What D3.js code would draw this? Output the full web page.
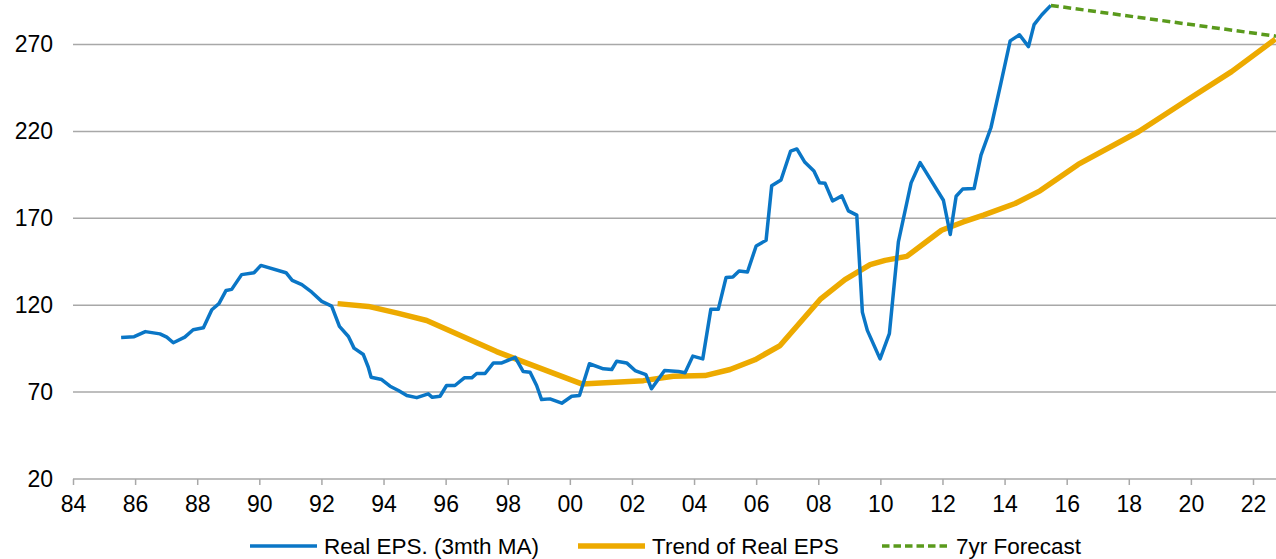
<!DOCTYPE html>
<html>
<head>
<meta charset="utf-8">
<script src="https://cdn.jsdelivr.net/npm/d3@7"></script>
<style>
    body { margin: 0; background: #fff; }
    svg text { font-family: "Liberation Sans", Arial, sans-serif; fill: #000; }
</style>
</head>
<body>
<svg id="eps"></svg>
<script>
const size = {w: 1276, h: 559};
const plot = {l: 73, r: 1276, t: 0, b: 479};

// DATA (year as decimal, value)
const epsYears = [1985.55, 1985.97, 1986.33, 1986.8, 1987.02, 1987.23, 1987.6, 1987.87, 1988.2, 1988.47,
    1988.7, 1988.93, 1989.11, 1989.43, 1989.83, 1990.05, 1990.86, 1991.06, 1991.37, 1991.69,
    1992.01, 1992.33, 1992.58, 1992.87, 1993.05, 1993.35, 1993.51, 1993.6, 1993.94, 1994.21,
    1994.48, 1994.75, 1995.07, 1995.44, 1995.57, 1995.82, 1996.03, 1996.3, 1996.6, 1996.84,
    1997.0, 1997.27, 1997.54, 1997.81, 1998.24, 1998.5, 1998.72, 1998.93, 1999.09, 1999.36,
    1999.74, 2000.06, 2000.31, 2000.63, 2001.08, 2001.35, 2001.51, 2001.83, 2002.1, 2002.45,
    2002.63, 2003.05, 2003.5, 2003.71, 2003.96, 2004.28, 2004.54, 2004.78, 2005.03, 2005.25,
    2005.45, 2005.72, 2006.0, 2006.32, 2006.5, 2006.8, 2007.11, 2007.31, 2007.57, 2007.86,
    2008.04, 2008.22, 2008.46, 2008.76, 2008.97, 2009.24, 2009.42, 2009.58, 2009.99, 2010.29,
    2010.58, 2010.99, 2011.28, 2012.03, 2012.25, 2012.44, 2012.65, 2013.02, 2013.24, 2013.56,
    2013.88, 2014.18, 2014.48, 2014.77, 2014.95, 2015.2, 2015.49];
const epsValues = [101.4, 101.9, 104.8, 103.5, 101.6, 98.4, 101.6, 105.9, 107, 117.4,
    120.9, 128.5, 129.1, 137.6, 138.7, 142.9, 138.7, 134.3, 131.8, 127.5,
    122.2, 119.5, 107.8, 102, 95.3, 91.6, 84.3, 78.5, 77.2, 73.4,
    70.9, 68, 66.8, 69, 67, 67.6, 73.8, 73.8, 78.2, 78.2,
    80.7, 80.7, 86.8, 86.8, 90.0, 81.8, 81.4, 73.8, 65.7, 66.1,
    63.6, 67.6, 68, 86.3, 83.4, 83, 87.8, 86.8, 82.4, 80,
    71.9, 82.4, 81.8, 81.1, 90.7, 89.1, 117.6, 117.6, 135.9, 136.2,
    139.7, 139.1, 154.1, 157.4, 188.7, 192, 208.7, 209.9, 202.2, 197.2,
    190.4, 190.1, 180, 182.9, 174.3, 171.8, 116, 105.5, 89.1, 103.6,
    156.4, 190.4, 202, 180.4, 160.7, 182.7, 186.8, 187.2, 206.4, 222.1,
    247.7, 272.1, 275.6, 268.8, 281.4, 287.1, 292.5];

const trendYears = [1992.52, 1993.51, 1994.45, 1995.39, 1997.64, 2000.38, 2002.37, 2003.33, 2004.35, 2005.16,
    2005.96, 2006.77, 2008.06, 2008.86, 2009.67, 2010.15, 2010.85, 2011.97, 2012.67, 2013.32,
    2014.34, 2015.14, 2015.68, 2016.37, 2018.31, 2019.97, 2021.31, 2022.72];
const trendValues = [120.9, 119.3, 115.4, 111.2, 93.3, 74.7, 76.6, 79.1, 79.5, 83,
    88.6, 96.8, 123.3, 134.7, 143.4, 145.8, 148.1, 163.1, 167.9, 171.8,
    178.5, 185.8, 192.5, 201, 219.8, 239.1, 254.4, 273.1];

const forecastYears = [2015.49, 2022.74];
const forecastValues = [292.5, 274.8];

const yTicks = [20, 70, 120, 170, 220, 270];
const xTicks = d3.range(1984, 2023, 2);
const xTickLabels = xTicks.map(d => String(d % 100).padStart(2, '0'));

const seriesNames = ['Real EPS. (3mth MA)', 'Trend of Real EPS', '7yr Forecast'];
const colors = {eps: '#0A76C6', trend: '#EDAA00', forecast: '#5A9A1C', grid: '#A8A8A8'};

const svg = d3.select('svg#eps')
    .attr('width', size.w)
    .attr('height', size.h);

// SCALES
const xScale = d3.scaleLinear().domain([1984, 2022]).range([73, 1253]);
const yScale = d3.scaleLinear().domain([20, 270]).range([479, 44.5]);

drawGrid();
drawAxes();
drawLines();
drawLegend();

//--------FUNCTIONS--------

// GRIDLINES
function drawGrid(){
    svg.append('g')
        .selectAll('line')
        .data(yTicks.slice(1))
        .join('line')
        .attr('x1', plot.l)
        .attr('x2', plot.r)
        .attr('y1', d => yScale(d))
        .attr('y2', d => yScale(d))
        .attr('stroke', colors.grid)
        .attr('stroke-width', 1.5);
}

// AXES
function drawAxes(){
    let xAxis = svg.append('g')
        .attr('transform', `translate(0, ${yScale(20)})`)
        .call(d3.axisBottom(xScale)
            .tickValues(xTicks)
            .tickFormat((d, i) => xTickLabels[i])
            .tickSize(6)
            .tickSizeOuter(0)
            .tickPadding(11));

    xAxis.select('.domain')
        .attr('d', `M${plot.l},0H${plot.r}`)
        .attr('stroke', colors.grid)
        .attr('stroke-width', 1.5);
    xAxis.selectAll('.tick line')
        .attr('stroke', colors.grid)
        .attr('stroke-width', 1.5);
    xAxis.selectAll('.tick text')
        .style('font-size', '23px')
        .attr('fill', '#000');

    let yAxis = svg.append('g')
        .attr('transform', `translate(${plot.l}, 0)`)
        .call(d3.axisLeft(yScale)
            .tickValues(yTicks)
            .tickSize(0)
            .tickPadding(20));

    yAxis.select('.domain').remove();
    yAxis.selectAll('.tick text')
        .style('font-size', '23px')
        .attr('fill', '#000');
}

// LINES
function drawLines(){
    let line = d3.line()
        .x(d => xScale(d[0]))
        .y(d => yScale(d[1]));

    svg.append('path')
        .datum(d3.zip(trendYears, trendValues))
        .attr('d', line)
        .attr('fill', 'none')
        .attr('stroke', colors.trend)
        .attr('stroke-width', 5.5)
        .attr('stroke-linejoin', 'round');

    svg.append('path')
        .datum(d3.zip(epsYears, epsValues))
        .attr('d', line)
        .attr('fill', 'none')
        .attr('stroke', colors.eps)
        .attr('stroke-width', 3.5)
        .attr('stroke-linejoin', 'round');

    svg.append('path')
        .datum(d3.zip(forecastYears, forecastValues))
        .attr('d', line)
        .attr('fill', 'none')
        .attr('stroke', colors.forecast)
        .attr('stroke-width', 3.5)
        .attr('stroke-dasharray', '8, 4.5');
}

// LEGEND
function drawLegend(){
    let items = [
        {name: seriesNames[0], color: colors.eps, w: 3.5, dash: null, x: 250},
        {name: seriesNames[1], color: colors.trend, w: 5.5, dash: null, x: 578},
        {name: seriesNames[2], color: colors.forecast, w: 3.5, dash: '7.5, 4', x: 882}
    ];

    let g = svg.append('g')
        .selectAll('g')
        .data(items)
        .join('g')
        .attr('transform', d => `translate(${d.x}, 546)`);

    g.append('line')
        .attr('x1', 0)
        .attr('x2', 67)
        .attr('stroke', d => d.color)
        .attr('stroke-width', d => d.w)
        .attr('stroke-dasharray', d => d.dash);

    g.append('text')
        .attr('x', 74)
        .attr('y', 7.5)
        .style('font-size', '22.5px')
        .text(d => d.name);
}
</script>
</body>
</html>
